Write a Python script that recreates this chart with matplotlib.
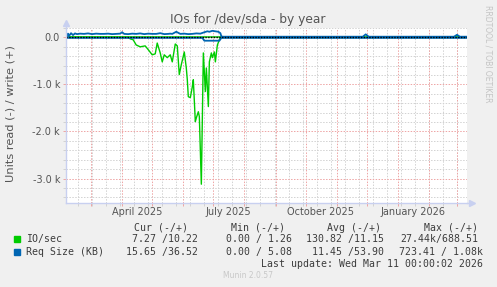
import numpy as np
import pandas as pd
import matplotlib
matplotlib.use("Agg")
import matplotlib.pyplot as plt
import matplotlib.dates as mdates
from matplotlib.patches import Rectangle
from matplotlib.lines import Line2D

W, H = 497, 287

# IO/sec read (plotted below zero)
io_read_dates = ["2025-02-04", "2025-04-07", "2025-04-09", "2025-04-12", "2025-04-15", "2025-04-19",
                 "2025-04-24", "2025-04-27", "2025-05-01", "2025-05-04", "2025-05-06", "2025-05-09",
                 "2025-05-11", "2025-05-13", "2025-05-16", "2025-05-19", "2025-05-21", "2025-05-24",
                 "2025-05-26", "2025-05-28", "2025-05-30", "2025-06-02", "2025-06-04", "2025-06-05",
                 "2025-06-06", "2025-06-08", "2025-06-10", "2025-06-11", "2025-06-13", "2025-06-14",
                 "2025-06-16", "2025-06-17", "2025-06-19", "2025-06-21", "2025-06-23", "2025-06-24",
                 "2025-06-26", "2025-06-27", "2025-06-29", "2025-06-30", "2025-07-02", "2025-07-03",
                 "2025-07-05", "2025-07-08", "2026-03-11"]
io_read = [0, 0, 30, 50, 160, 200,
           180, 260, 370, 350, 120, 330,
           520, 370, 430, 370, 520, 140,
           180, 790, 580, 310, 650, 900,
           1260, 1280, 1050, 900, 1790, 1710,
           1580, 1680, 3120, 330, 1150, 650,
           1470, 520, 330, 430, 310, 520,
           160, 0, 0]

# IO/sec write
io_write_dates = ["2025-02-04", "2025-07-08", "2026-03-11"]
io_write = [12, 10, 10]

# Req Size (KB) read (plotted below zero)
req_read_dates = ["2025-02-04", "2025-06-20", "2025-06-22", "2025-07-07", "2025-07-09", "2026-03-11"]
req_read = [10, 10, 70, 70, 10, 10]

# Req Size (KB) write
req_write_dates = ["2025-02-04", "2025-02-05", "2025-02-06", "2025-02-07", "2025-02-09", "2025-02-11",
                   "2025-02-13", "2025-02-15", "2025-02-18", "2025-02-22", "2025-02-26", "2025-03-02",
                   "2025-03-06", "2025-03-10", "2025-03-14", "2025-03-18", "2025-03-22", "2025-03-26",
                   "2025-03-30", "2025-04-01", "2025-04-03", "2025-04-07", "2025-04-11", "2025-04-15",
                   "2025-04-19", "2025-04-23", "2025-04-27", "2025-05-01", "2025-05-05", "2025-05-09",
                   "2025-05-13", "2025-05-17", "2025-05-19", "2025-05-21", "2025-05-25", "2025-05-29",
                   "2025-06-02", "2025-06-06", "2025-06-10", "2025-06-14", "2025-06-18", "2025-06-22",
                   "2025-06-25", "2025-06-27", "2025-06-30", "2025-07-03", "2025-07-06", "2025-07-08",
                   "2025-07-09", "2025-07-11", "2025-11-27", "2025-11-30", "2025-12-03", "2026-02-26",
                   "2026-03-01", "2026-03-04", "2026-03-11"]
req_write = [60, 10, 80, 30, 90, 50,
             85, 70, 80, 75, 85, 70,
             80, 75, 75, 80, 70, 75,
             80, 110, 75, 70, 80, 75,
             85, 70, 80, 75, 75, 90,
             70, 75, 80, 75, 120, 75,
             80, 70, 75, 85, 80, 110,
             130, 120, 140, 130, 120, 90,
             20, 15, 15, 65, 15, 15,
             55, 15, 15]

ytick_vals = [-3000, -2000, -1000, 0]
ytick_labels = ["-3.0 k", "-2.0 k", "-1.0 k", "0.0"]
xlabel_dates = ["2025-04-16", "2025-07-16", "2025-10-16", "2026-01-16"]
xlabel_text = ["April 2025", "July 2025", "October 2025", "January 2026"]

legend_names = ["IO/sec", "Req Size (KB)"]
legend_colors = ["#00cc00", "#0066b3"]
cur_txt = ["7.27 /10.22", "15.65 /36.52"]
min_txt = ["0.00 / 1.26", "0.00 / 5.08"]
avg_txt = ["130.82 /11.15", "11.45 /53.90"]
max_txt = ["27.44k/688.51", "723.41 / 1.08k"]

t0 = pd.Timestamp("2025-02-04")
t1 = pd.Timestamp("2026-03-11")
month_lines = pd.date_range("2025-03-01", "2026-03-01", freq="MS")
week_lines = pd.date_range("2025-02-16", "2026-03-08", freq="14D")

grid_gray = "#d2d2d2"
grid_red = "#eea4a4"
axis_col = "#c8d0f0"
txt_col = "#555555"


def fy(y):
    return 1 - y / H


fig = plt.figure(figsize=(W / 100, H / 100), dpi=100, facecolor="#f0f0f0")
ax = fig.add_axes([66 / W, fy(203), 401 / W, 175 / H])
ax.set_facecolor("white")

# data
ax.plot(pd.to_datetime(io_read_dates), -np.array(io_read), color=legend_colors[0], lw=1.0, zorder=3)
ax.plot(pd.to_datetime(io_write_dates), io_write, color=legend_colors[0], lw=1.0, zorder=3)
ax.plot(pd.to_datetime(req_read_dates), -np.array(req_read), color=legend_colors[1], lw=1.3, zorder=4)
ax.plot(pd.to_datetime(req_write_dates), req_write, color=legend_colors[1], lw=1.3, zorder=4)
ax.axhline(0, color="black", lw=1.0, ls=(0, (1, 1)), zorder=5)

ax.set_xlim(t0, t1)
ax.set_ylim(-3520, 200)

# grid
xt = ax.get_xaxis_transform()
yt = ax.get_yaxis_transform()
dash = (0, (1.5, 1.5))
ax.vlines(mdates.date2num(week_lines), 0, 1, transform=xt, colors=grid_gray, lw=0.7, linestyles=dash, zorder=1)
ax.vlines(mdates.date2num(month_lines), 0, 1, transform=xt, colors=grid_red, lw=0.7, linestyles=dash, zorder=1)
minor_y = [v for v in range(-3400, 201, 200) if v % 1000 != 0]
ax.hlines(minor_y, 0, 1, transform=yt, colors=grid_gray, lw=0.7, linestyles=dash, zorder=1)
ax.hlines(ytick_vals, 0, 1, transform=yt, colors=grid_red, lw=0.7, linestyles=dash, zorder=1)

# small tick marks outside the axes
ax.vlines(mdates.date2num(week_lines), -3 / 175, 0, transform=xt, colors=grid_gray, lw=0.7, clip_on=False)
ax.vlines(mdates.date2num(month_lines), -3 / 175, 0, transform=xt, colors=grid_red, lw=0.7, clip_on=False)
ax.hlines(minor_y, -3 / 401, 0, transform=yt, colors=grid_gray, lw=0.7, clip_on=False)
ax.hlines(ytick_vals, -3 / 401, 0, transform=yt, colors=grid_red, lw=0.7, clip_on=False)

ax.set_yticks(ytick_vals, ytick_labels)
ax.set_xticks(pd.to_datetime(xlabel_dates), xlabel_text)
ax.tick_params(axis="y", length=0, pad=4.3, labelsize=7, labelcolor=txt_col)
ax.tick_params(axis="x", length=0, pad=2.8, labelsize=7, labelcolor=txt_col)

for s in ["top", "right"]:
    ax.spines[s].set_visible(False)
for s in ["left", "bottom"]:
    ax.spines[s].set_color(axis_col)
    ax.spines[s].set_linewidth(1.0)
    ax.spines[s].set_zorder(6)

# axis arrows
ax.add_line(Line2D([1, 1 + 5 / 401], [0, 0], transform=ax.transAxes, color=axis_col, lw=1, clip_on=False))
ax.plot([1 + 5 / 401], [0], marker=">", ms=4, color=axis_col, transform=ax.transAxes, clip_on=False)
ax.add_line(Line2D([0, 0], [1, 1 + 5 / 175], transform=ax.transAxes, color=axis_col, lw=1, clip_on=False))
ax.plot([0], [1 + 5 / 175], marker="^", ms=4, color=axis_col, transform=ax.transAxes, clip_on=False)

# titles
fig.text(248 / W, fy(22.5), "IOs for /dev/sda - by year", ha="center", va="baseline",
         fontsize=8.8, color=txt_col)
fig.text(10.5 / W, fy(114), "Units read (-) / write (+)", rotation=90, ha="center", va="center",
         fontsize=8.2, color=txt_col)
fig.text(488 / W, fy(5), "RRDTOOL / TOBI OETIKER", rotation=270, ha="center", va="top",
         fontsize=5.5, color="#c4c4c4")

# legend
mono = dict(family="DejaVu Sans Mono", fontsize=7.1, color="#3c3c3c", va="center")
heads = ["Cur (-/+)", "Min (-/+)", "Avg (-/+)", "Max (-/+)"]
head_x = [188, 285, 381, 477.5]
for t, x in zip(heads, head_x):
    fig.text(x / W, fy(227.7), t, ha="right", **mono)

row_y = [239.3, 251.7]
col_x = [197.5, 291.5, 384, 478]
for i in range(2):
    fig.patches.append(Rectangle((14 / W, fy(row_y[i] + 2.8)), 6 / W, 6 / H,
                                 transform=fig.transFigure, color=legend_colors[i]))
    fig.text(25.7 / W, fy(row_y[i]), legend_names[i], ha="left", **mono)
    vals = [cur_txt[i], min_txt[i], avg_txt[i], max_txt[i]]
    for j, v in enumerate(vals):
        x = col_x[j] if not (j == 3 and i == 1) else 483
        fig.text(x / W, fy(row_y[i]), v, ha="right", **mono)

fig.text(483 / W, fy(263.7), "Last update: Wed Mar 11 00:00:02 2026", ha="right", **mono)
fig.text(248 / W, fy(276), "Munin 2.0.57", ha="center", va="center", fontsize=5.5, color="#c8c8c8")

fig.savefig("out.png", dpi=100, facecolor=fig.get_facecolor())
